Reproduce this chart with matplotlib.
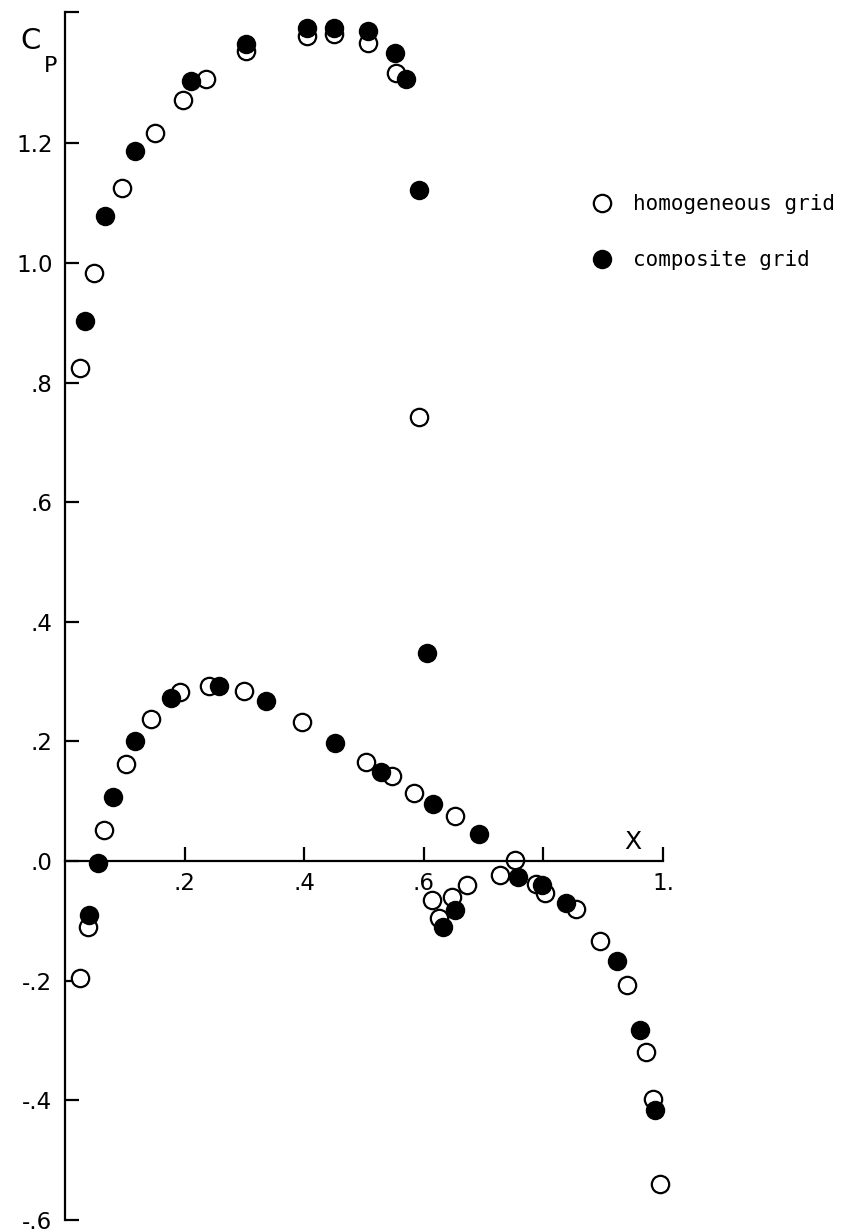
import matplotlib
matplotlib.use("Agg")
import matplotlib.pyplot as plt

# pressure coefficient
hom_upper_x = [0.025, 0.048, 0.095, 0.150, 0.197, 0.235, 0.302, 0.405, 0.450, 0.507, 0.553, 0.592]
hom_upper_cp = [0.825, 0.983, 1.125, 1.218, 1.273, 1.308, 1.355, 1.380, 1.383, 1.368, 1.317, 0.743]

comp_upper_x = [0.033, 0.067, 0.117, 0.211, 0.302, 0.405, 0.450, 0.507, 0.552, 0.570, 0.592, 0.605]
comp_upper_cp = [0.903, 1.078, 1.187, 1.305, 1.367, 1.393, 1.393, 1.388, 1.352, 1.307, 1.122, 0.347]

hom_lower_x = [0.025, 0.038, 0.065, 0.102, 0.143, 0.193, 0.240, 0.299, 0.397, 0.503, 0.547,
               0.583, 0.613, 0.625, 0.647, 0.653, 0.673, 0.728, 0.753, 0.787, 0.802, 0.855,
               0.895, 0.940, 0.972, 0.983, 0.995]
hom_lower_cp = [-0.195, -0.110, 0.052, 0.163, 0.238, 0.283, 0.293, 0.285, 0.232, 0.165, 0.142,
                0.113, -0.065, -0.095, -0.060, 0.075, -0.040, -0.023, 0.002, -0.038, -0.053, -0.080,
                -0.133, -0.208, -0.320, -0.398, -0.540]

comp_lower_x = [0.040, 0.055, 0.080, 0.117, 0.178, 0.258, 0.336, 0.452, 0.528, 0.615, 0.632,
                0.653, 0.693, 0.757, 0.798, 0.838, 0.923, 0.962, 0.987]
comp_lower_cp = [-0.090, -0.003, 0.107, 0.200, 0.273, 0.293, 0.268, 0.197, 0.148, 0.095, -0.110,
                 -0.082, 0.045, -0.027, -0.040, -0.070, -0.168, -0.282, -0.417]

x_ticks = [0.2, 0.4, 0.6, 0.8, 1.0]
x_tick_labels = [".2", ".4", ".6", "", "1."]
y_ticks = [-0.6, -0.4, -0.2, 0.0, 0.2, 0.4, 0.6, 0.8, 1.0, 1.2, 1.42]
y_tick_labels = ["-.6", "-.4", "-.2", ".0", ".2", ".4", ".6", ".8", "1.0", "1.2", ""]

W, H = 853, 1232
X0, Y0, SCALE = 65, 861, 598  # pixel position of the origin, pixels per unit

fig = plt.figure(figsize=(W / 100, H / 100), dpi=100)
ax = fig.add_axes([0, 0, 1, 1])
ax.set_xlim(-X0 / SCALE, (W - X0) / SCALE)
ax.set_ylim((Y0 - H) / SCALE, Y0 / SCALE)

open_style = dict(ls="none", marker="o", ms=12.5, mfc="white", mec="black", mew=1.6)
fill_style = dict(ls="none", marker="o", ms=14, mfc="black", mec="black", mew=0)

ax.plot(hom_upper_x, hom_upper_cp, label="homogeneous grid", **open_style)
ax.plot(hom_lower_x, hom_lower_cp, **open_style)
ax.plot(comp_upper_x, comp_upper_cp, label="composite grid", **fill_style)
ax.plot(comp_lower_x, comp_lower_cp, **fill_style)

for side in ("top", "right"):
    ax.spines[side].set_visible(False)
for side in ("left", "bottom"):
    ax.spines[side].set_position(("data", 0))
    ax.spines[side].set_linewidth(1.6)
ax.spines["left"].set_bounds(-0.6, 1.42)
ax.spines["bottom"].set_bounds(0, 1.0)

ax.set_xticks(x_ticks)
ax.set_xticklabels(x_tick_labels)
ax.set_yticks(y_ticks)
ax.set_yticklabels(y_tick_labels)
ax.tick_params(axis="both", direction="in", length=10, width=1.6, labelsize=16.5, pad=9)
ax.tick_params(axis="x", pad=8)

ax.text(0.95, 0.012, "X", fontsize=18, ha="center", va="bottom")
ax.text(-0.058, 1.372, "C", fontsize=21, ha="center", va="center")
ax.text(-0.024, 1.33, "P", fontsize=16, ha="center", va="center")

fig.legend(loc="upper left", bbox_to_anchor=(581 / W, 1 - 184 / H), frameon=False,
           prop={"family": "DejaVu Sans Mono", "size": 15}, borderpad=0,
           handlelength=1.0, handletextpad=1.0, labelspacing=1.7, markerscale=1.0)

fig.savefig("out.png", dpi=100)
